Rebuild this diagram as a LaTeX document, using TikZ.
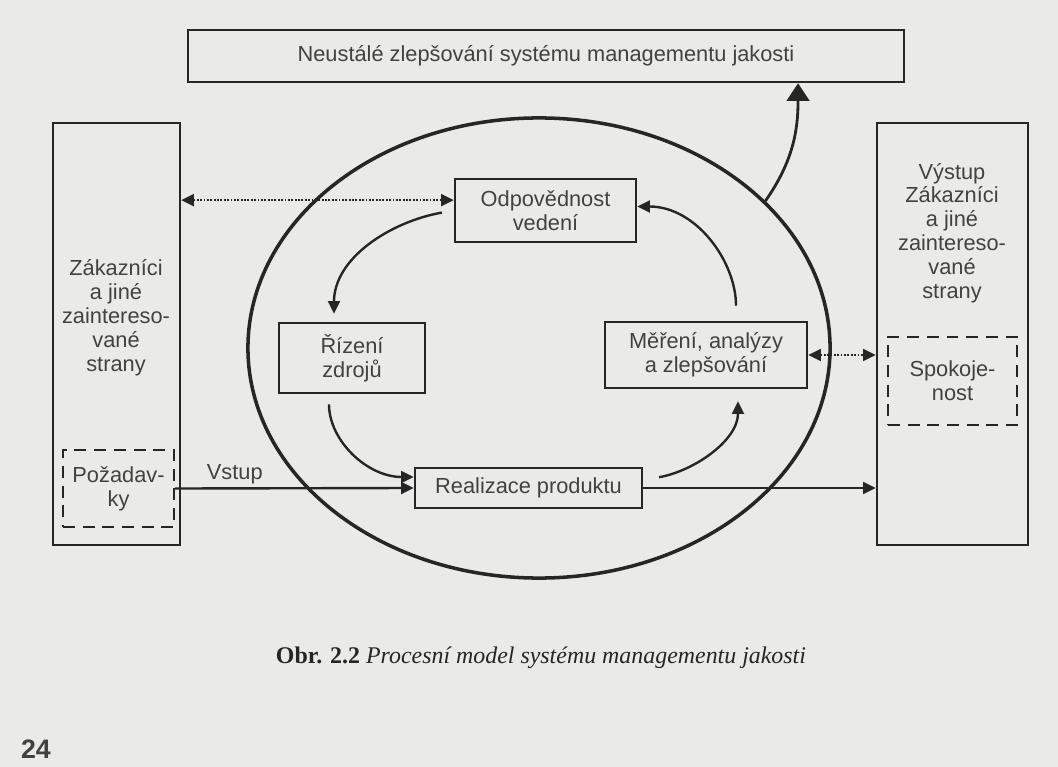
\documentclass[tikz,border=0pt]{standalone}
\usepackage{fontspec}
\setmainfont{Liberation Serif}
\setsansfont{Liberation Sans}
\usetikzlibrary{shapes.geometric,positioning,arrows.meta,calc}
\definecolor{paper}{RGB}{234,234,232}
\definecolor{ink}{RGB}{38,38,38}
\definecolor{print}{RGB}{66,66,66}

\begin{document}
\begin{tikzpicture}[
        x=0.025cm, y=-0.025cm,
        box/.style={rectangle, draw=ink, line width=1.8pt, inner sep=0pt, align=center,
            font=\sffamily\fontsize{15.5}{17}\selectfont, text=print},
        dbox/.style={box, line width=1.6pt, dash pattern=on 8.5pt off 5.5pt},
        txt/.style={align=center, inner sep=0pt, font=\sffamily\fontsize{15.5}{17}\selectfont, text=print},
        arrow/.style={-{Triangle[length=9pt, width=8.5pt]}, line width=1.7pt, draw=ink},
        bigarrow/.style={-{Triangle[length=12.5pt, width=16pt]}, line width=2pt, draw=ink},
        dotarrow/.style={{Triangle[length=9pt, width=8.5pt]}-{Triangle[length=9pt, width=8.5pt]},
            line width=1.6pt, draw=ink, dash pattern=on 1.3pt off 1.1pt}
    ]
        \useasboundingbox (0,0) rectangle (1058,767);
        \fill[paper] (0,0) rectangle (1058,767);

        % outer frame
        \node[box, minimum width=17.9cm, minimum height=1.3cm] (improve) at (546,56)
            {Neustálé zlepšování systému managementu jakosti};
        \node[ellipse, draw=ink, line width=2.5pt, minimum width=14.55cm, minimum height=11.5cm] (qms) at (539,348) {};

        \node[box, minimum width=3.175cm, minimum height=10.55cm] (cust) at (116.5,334) {};
        \node[txt] (custtxt) at (116,318) {Zákazníci\\a jiné\\zaintereso-\\vané\\strany};
        \node[dbox, minimum width=2.775cm, minimum height=1.925cm] (poz) at (118.5,488.5) {Požadav-\\ky};

        \node[box, minimum width=3.775cm, minimum height=10.55cm] (outbox) at (952.5,334) {};
        \node[txt] (outtxt) at (952,233) {Výstup\\Zákazníci\\a jiné\\zaintereso-\\vané\\strany};
        \node[dbox, minimum width=3.225cm, minimum height=2.2cm] (spok) at (952.5,381) {Spokoje-\\nost};

        % process cycle
        \node[box, minimum width=4.525cm, minimum height=1.575cm] (odp) at (545.5,210.5) {Odpovědnost\\vedení};
        \node[box, minimum width=3.65cm, minimum height=1.75cm] (rid) at (352,358) {Řízení\\zdrojů};
        \node[box, minimum width=5.05cm, minimum height=1.65cm] (mer) at (706,355) {Měření, analýzy\\a zlepšování};
        \node[box, minimum width=5.675cm, minimum height=1cm] (real) at (528.5,488) {Realizace produktu};

        \coordinate (odpin) at ([yshift=0.26cm]odp.west);
        \draw[dotarrow] (odpin) -- (cust.east |- odpin);
        \draw[dotarrow] (mer.east) -- (outbox.west |- mer.east);

        \draw[arrow, shorten <=0.3cm, shorten >=0.2cm] (odp.west) to[out=190, in=90] ([xshift=-0.45cm]rid.north);
        \draw[arrow, shorten <=0.25cm] ([xshift=-0.575cm]rid.south) to[out=-90, in=180] ([yshift=0.275cm]real.west);
        \draw[arrow, shorten <=0.4cm, shorten >=0.3cm] ([yshift=0.2cm]real.east) to[out=10, in=-90] ([xshift=0.8cm]mer.south);
        \draw[arrow, shorten <=0.375cm] ([xshift=0.75cm]mer.north) to[out=90, in=0] ([yshift=0.1cm]odp.east);

        \draw[arrow] (poz.east) -- node[txt, above, pos=0.25, inner sep=2pt] (vstup) {Vstup} (real.west);
        \draw[arrow] (real.east) -- (outbox.west |- real.east);
        \draw[bigarrow] (qms.33) to[out=55, in=-90] ([xshift=6.3cm]improve.south);

        % caption
        \node[font=\fontsize{17}{19}\selectfont, text=ink] (caption) at (541,658)
            {\textbf{Obr. 2.2} \textit{Procesní model systému managementu jakosti}};
        \node[font=\sffamily\bfseries\fontsize{19}{21}\selectfont, text=print] (page) at (36,749) {24};
    \end{tikzpicture}
\end{document}
